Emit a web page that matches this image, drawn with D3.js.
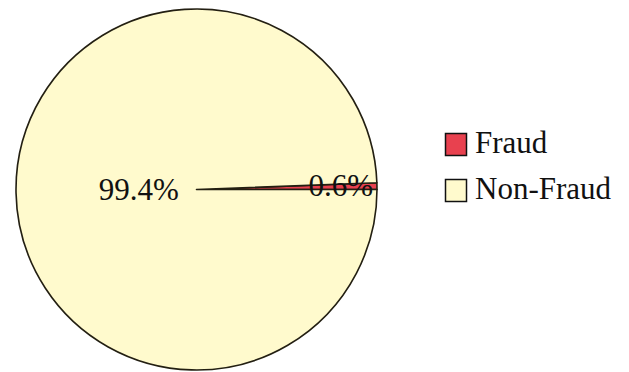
<!DOCTYPE html>
<html>
<head>
<meta charset="utf-8">
<script src="https://cdn.jsdelivr.net/npm/d3@7"></script>
<style>
html,body{margin:0;padding:0;background:#fff;}
svg{display:block;}
</style>
</head>
<body>
<svg id="chart" width="629" height="372"></svg>
<script>
const categories = ["Fraud", "Non-Fraud"];
const values = [0.6, 99.4];
const labels = ["0.6%", "99.4%"];
const colors = ["#e8414f", "#fffacd"];

const svg = d3.select("#chart");
const cx = 196.5, cy = 189.5, r = 180.5;
const g = svg.append("g").attr("transform", `translate(${cx},${cy})`);

const pie = d3.pie().sort(null)
  .startAngle(Math.PI / 2)
  .endAngle(Math.PI / 2 - 2 * Math.PI);
const arcs = pie(values);
const arc = d3.arc().innerRadius(0).outerRadius(r);

g.selectAll("path.slice").data(arcs).enter().append("path")
  .attr("class", "slice")
  .attr("d", arc)
  .attr("fill", (d, i) => colors[i])
  .attr("stroke", "#231f12")
  .attr("stroke-width", 1.6)
  .attr("stroke-linejoin", "round");

// label radii (fraction of radius) per slice
const labelR = [0.80, 0.32];
g.selectAll("text.lbl").data(arcs).enter().append("text")
  .attr("class", "lbl")
  .attr("transform", (d, i) => {
    const a = (d.startAngle + d.endAngle) / 2;
    const rr = labelR[i] * r;
    return `translate(${Math.sin(a) * rr},${-Math.cos(a) * rr})`;
  })
  .attr("text-anchor", "middle")
  .attr("dy", "0.3em")
  .attr("font-family", "'Liberation Serif', 'Times New Roman', serif")
  .attr("font-size", 31)
  .attr("fill", "#111")
  .text((d, i) => labels[i]);

// legend
const leg = svg.append("g").attr("transform", "translate(445,133)");
const items = leg.selectAll("g").data(categories).enter().append("g")
  .attr("transform", (d, i) => `translate(0,${i * 46})`);
items.append("rect")
  .attr("x", 0.5).attr("y", 0.5)
  .attr("width", 21).attr("height", 22)
  .attr("fill", (d, i) => colors[i])
  .attr("stroke", "#111").attr("stroke-width", 1.5);
items.append("text")
  .attr("x", 30).attr("y", 20)
  .attr("font-family", "'Liberation Serif', 'Times New Roman', serif")
  .attr("font-size", 31)
  .attr("fill", "#111")
  .text(d => d);
</script>
</body>
</html>
